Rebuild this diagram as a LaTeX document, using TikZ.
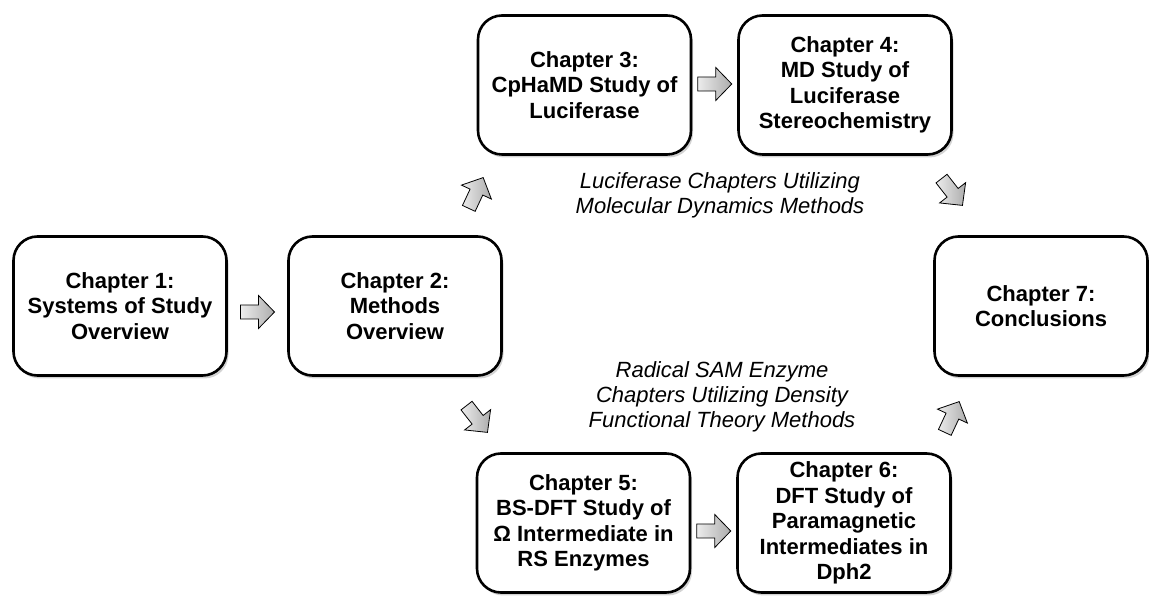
\documentclass[tikz,border=0pt]{standalone}
\usepackage{fontspec}
\setmainfont{Liberation Sans}
\usetikzlibrary{shadows,calc}
\begin{document}
\begin{tikzpicture}[x=1pt,y=1pt,
  chap/.style={draw=black, line width=2.6pt, rounded corners=24pt, fill=white,
    minimum width=213pt, minimum height=139pt, inner sep=0pt, align=center,
    font=\fontsize{22}{25.5}\selectfont\bfseries,
    drop shadow={shadow xshift=2pt, shadow yshift=-3pt, opacity=0.35, fill=gray}},
  lbl/.style={align=center, font=\fontsize{22}{25}\selectfont\itshape},
  barrow/.pic={\shade[draw=black, line width=0.8pt, left color=gray!15, right color=gray!65]
    (-17,-7) -- (1,-7) -- (1,-16.5) -- (17,0) -- (1,16.5) -- (1,7) -- (-17,7) -- cycle;}
]
\useasboundingbox (0,0) rectangle (1149,597);

\node[chap] (c1) at (120,291) {Chapter 1:\\Systems of Study\\Overview};
\node[chap] (c2) at (395,291) {Chapter 2:\\Methods\\Overview};
\node[chap] (c3) at (584.5,512) {Chapter 3:\\CpHaMD Study of\\Luciferase};
\node[chap] (c4) at (845,512) {Chapter 4:\\MD Study of\\Luciferase\\Stereochemistry};
\node[chap] (c5) at (583.5,74) {Chapter 5:\\BS-DFT Study of\\Ω Intermediate in\\RS Enzymes};
\node[chap] (c6) at (844,74) {Chapter 6:\\DFT Study of\\Paramagnetic\\Intermediates in\\Dph2};
\node[chap] (c7) at (1041,291) {Chapter 7:\\Conclusions};

\node[lbl] (l1) at (720,402) {Luciferase Chapters Utilizing\\Molecular Dynamics Methods};
\node[lbl] (l2) at (722,200) {Radical SAM Enzyme\\Chapters Utilizing Density\\Functional Theory Methods};

\pic (a12) at ($(c1.east)!0.5!(c2.west)+(0,-6)$) {barrow};
\pic (a34) at ($(c3.east)!0.5!(c4.west)+(0,1)$) {barrow};
\pic (a56) at ($(c5.east)!0.5!(c6.west)+(0,-8)$) {barrow};
\pic[rotate=65] (a23) at (476,404) {barrow};
\pic[rotate=-52] (a25) at (477,178) {barrow};
\pic[rotate=-52] (a47) at (952,405) {barrow};
\pic[rotate=65] (a67) at (952,180) {barrow};
\end{tikzpicture}
\end{document}
